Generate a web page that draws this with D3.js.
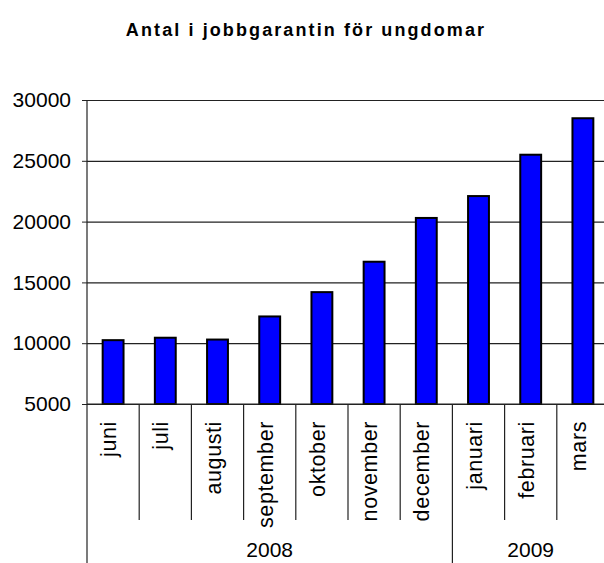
<!DOCTYPE html>
<html lang="sv">
<head>
    <meta charset="UTF-8">
    <title>Antal i jobbgarantin</title>
    <script src="https://cdn.jsdelivr.net/npm/d3@7"></script>
    <style>
        body { margin: 0; background: #fff; }
        text { font-family: "Liberation Sans", Arial, sans-serif; fill: #000; }
    </style>
</head>
<body>
<script type="text/javascript">
    var width = 604;
    var height = 563;

    var months = ["juni", "juli", "augusti", "september", "oktober", "november", "december", "januari", "februari", "mars"];
    var values = [10250, 10450, 10300, 12200, 14200, 16700, 20300, 22100, 25500, 28500];
    var years = ["2008", "2009"];
    var yearSpan = [7, 3];   // antal månader per år
    var yTicks = [5000, 10000, 15000, 20000, 25000, 30000];

    var plot = {left: 87, right: 609, top: 100, bottom: 404};

    var svg = d3.select("body").append("svg")
            .attr("width", width)
            .attr("height", height);

    var xScale = d3.scaleBand()
            .domain(d3.range(months.length))
            .range([plot.left, plot.right])
            .paddingInner(0.6)
            .paddingOuter(0.3);

    var yScale = d3.scaleLinear()
            .domain([5000, 30000])
            .range([plot.bottom, plot.top]);

    // titel
    svg.append("text")
            .attr("x", 306)
            .attr("y", 36)
            .attr("text-anchor", "middle")
            .attr("font-size", "18px")
            .attr("font-weight", "bold")
            .attr("letter-spacing", "2.1px")
            .text("Antal i jobbgarantin för ungdomar");

    // rutnät + y-axel
    var yAxis = d3.axisLeft(yScale)
            .tickValues(yTicks)
            .tickSize(-(plot.right - plot.left))
            .tickPadding(16)
            .tickFormat(d3.format("d"));
    var gy = svg.append("g")
            .attr("transform", "translate(" + plot.left + ",0)")
            .call(yAxis);
    gy.select(".domain").remove();
    gy.selectAll(".tick line").attr("stroke", "#222").attr("stroke-width", 1.2);
    gy.selectAll(".tick text")
            .attr("font-size", "21px")
            .attr("font-family", "Liberation Sans, Arial, sans-serif")
            .attr("fill", "#000");
    // kort tick till vänster
    gy.selectAll(".tick").append("line")
            .attr("x1", -5).attr("x2", 0)
            .attr("stroke", "#222");

    // staplar
    svg.selectAll("rect.bar")
            .data(values)
            .enter()
            .append("rect")
            .attr("class", "bar")
            .attr("x", function (d, i) { return xScale(i); })
            .attr("y", function (d) { return yScale(d); })
            .attr("width", xScale.bandwidth())
            .attr("height", function (d) { return plot.bottom - yScale(d); })
            .attr("fill", "#0000ff")
            .attr("stroke", "#000")
            .attr("stroke-width", 2);

    // y-axellinje
    svg.append("line")
            .attr("x1", plot.left).attr("x2", plot.left)
            .attr("y1", plot.top).attr("y2", height)
            .attr("stroke", "#222").attr("stroke-width", 1.2);

    // x-axel
    svg.append("line")
            .attr("x1", plot.left).attr("x2", plot.right)
            .attr("y1", plot.bottom).attr("y2", plot.bottom)
            .attr("stroke", "#222").attr("stroke-width", 1.2);

    var step = xScale.step();
    var catStart = function (i) { return plot.left + i * step; };

    // avdelare mellan månader
    svg.selectAll("line.sep")
            .data(d3.range(1, months.length))
            .enter()
            .append("line")
            .attr("class", "sep")
            .attr("x1", catStart).attr("x2", catStart)
            .attr("y1", plot.bottom)
            .attr("y2", function (i) { return i === yearSpan[0] ? height : 520; })
            .attr("stroke", "#222").attr("stroke-width", 1.2);

    // månadsetiketter
    svg.selectAll("text.month")
            .data(months)
            .enter()
            .append("text")
            .attr("class", "month")
            .attr("font-size", "21.5px")
            .attr("letter-spacing", "0.6px")
            .attr("text-anchor", "end")
            .attr("transform", function (d, i) {
                return "translate(" + (catStart(i) + step / 2 + 3) + ",421) rotate(-90)";
            })
            .text(function (d) { return d; });

    // årsetiketter
    var offs = [0, yearSpan[0]];
    svg.selectAll("text.year")
            .data(years)
            .enter()
            .append("text")
            .attr("class", "year")
            .attr("font-size", "21px")
            .attr("text-anchor", "middle")
            .attr("x", function (d, i) { return catStart(offs[i]) + yearSpan[i] * step / 2; })
            .attr("y", 557)
            .text(function (d) { return d; });
</script>
</body>
</html>
